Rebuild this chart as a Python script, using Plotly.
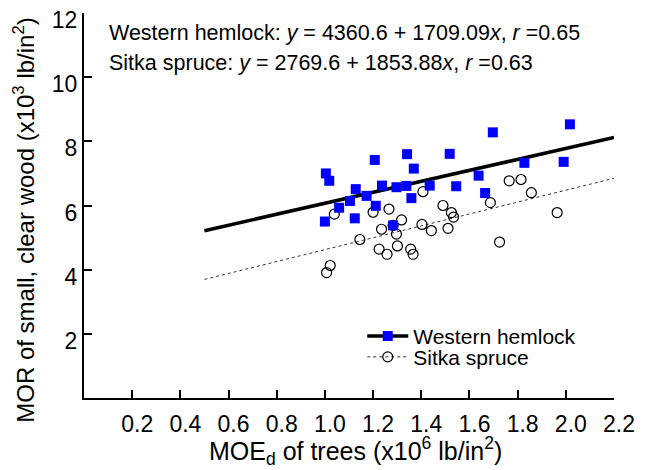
import plotly.graph_objects as go

# Western hemlock (MOEd x10^6 lb/in2, MOR x10^3 lb/in2)
wh_x = [1.004, 1.018, 1.000, 1.059, 1.104, 1.128, 1.124, 1.173, 1.207, 1.211, 1.237,
        1.297, 1.338, 1.341, 1.369, 1.359, 1.435, 1.283, 1.518, 1.545, 1.638, 1.665,
        1.697, 1.828, 1.991, 2.017]
wh_y = [7.00, 6.77, 5.50, 5.93, 6.14, 6.51, 5.60, 6.30, 7.42, 5.99, 6.62,
        6.57, 6.61, 7.60, 7.15, 6.23, 6.62, 5.38, 7.61, 6.60, 6.93, 6.39,
        8.28, 7.33, 7.36, 8.53]

# Sitka spruce
ss_x = [1.007, 1.022, 1.039, 1.145, 1.200, 1.266, 1.235, 1.225, 1.258, 1.318, 1.297,
        1.301, 1.283, 1.407, 1.403, 1.356, 1.366, 1.442, 1.490, 1.525, 1.534, 1.511,
        1.687, 1.725, 1.765, 1.814, 1.857, 1.964]
ss_y = [3.91, 4.13, 5.73, 4.94, 5.79, 5.89, 5.26, 4.64, 4.48, 5.55, 5.11,
        4.74, 5.38, 6.43, 5.41, 4.64, 4.48, 5.22, 6.00, 5.78, 5.64, 5.29,
        6.09, 4.86, 6.77, 6.81, 6.40, 5.78]

# Regression lines (y in lb/in2, converted to x10^3)
wh_coef = (4360.6, 1709.09)
ss_coef = (2769.6, 1853.88)
line_x = [0.5, 2.2]
wh_line_y = [(wh_coef[0] + wh_coef[1] * x) / 1000 for x in line_x]
ss_line_y = [(ss_coef[0] + ss_coef[1] * x) / 1000 for x in line_x]

x_ticks = [0.2, 0.4, 0.6, 0.8, 1.0, 1.2, 1.4, 1.6, 1.8, 2.0, 2.2]
x_ticktext = ["0.2", "0.4", "0.6", "0.8", "1.0", "1.2", "1.4", "1.6", "1.8", "2.0", "2.2"]
y_ticks = [2, 4, 6, 8, 10, 12]
y_ticktext = ["2", "4", "6", "8", "10", "12"]

FONT = "Liberation Sans, Arial, sans-serif"
BLUE = "#0000ff"

fig = go.Figure()

# regression lines
fig.add_trace(go.Scatter(x=line_x, y=wh_line_y, mode="lines",
                         line=dict(color="black", width=3.5), showlegend=False, hoverinfo="skip"))
fig.add_trace(go.Scatter(x=line_x, y=ss_line_y, mode="lines",
                         line=dict(color="#333333", width=1, dash="dot"), showlegend=False, hoverinfo="skip"))

# data points
fig.add_trace(go.Scatter(x=ss_x, y=ss_y, mode="markers", name="Sitka spruce",
                         marker=dict(symbol="circle-open", size=10, color="black", line=dict(width=1.2)),
                         showlegend=False))
fig.add_trace(go.Scatter(x=wh_x, y=wh_y, mode="markers", name="Western hemlock",
                         marker=dict(symbol="square", size=10, color=BLUE, line=dict(width=0)),
                         showlegend=False))

# legend entries (one legend each so the rows can sit close together)
fig.add_trace(go.Scatter(x=[None], y=[None], mode="lines+markers", name="Western hemlock",
                         line=dict(color="black", width=3.5),
                         marker=dict(symbol="square", size=10, color=BLUE), legend="legend"))
fig.add_trace(go.Scatter(x=[None], y=[None], mode="lines+markers", name="Sitka spruce",
                         line=dict(color="#333333", width=1, dash="dot"),
                         marker=dict(symbol="circle-open", size=10, color="black", line=dict(width=1.2)),
                         legend="legend2"))

eq1 = "Western hemlock: <i>y</i> = 4360.6 + 1709.09<i>x</i>, <i>r</i> =0.65"
eq2 = "Sitka spruce: <i>y</i> = 2769.6 + 1853.88<i>x</i>, <i>r</i> =0.63"

legend_common = dict(xanchor="left", yanchor="middle", bgcolor="rgba(0,0,0,0)",
                     font=dict(size=21, family=FONT), itemwidth=41)

fig.update_layout(
    width=641, height=462,
    margin=dict(l=75.5, r=35, t=4.7, b=71.5, autoexpand=False),
    paper_bgcolor="white", plot_bgcolor="white",
    font=dict(family=FONT, size=22, color="black"),
    showlegend=True,
    legend=dict(x=0.525, y=0.160, **legend_common),
    legend2=dict(x=0.525, y=0.106, **legend_common),
    xaxis=dict(range=[0, 2.2], tickvals=x_ticks, ticktext=x_ticktext,
               showline=True, linecolor="black", linewidth=2,
               ticks="inside", ticklen=8, tickwidth=1.5, tickcolor="black",
               showgrid=False, zeroline=False, automargin=False,
               tickfont=dict(size=23), ticklabelshift=5, ticklabelstandoff=4),
    yaxis=dict(range=[0, 12], tickvals=y_ticks, ticktext=y_ticktext,
               showline=True, linecolor="black", linewidth=2,
               ticks="inside", ticklen=8, tickwidth=1.5, tickcolor="black",
               showgrid=False, zeroline=False, automargin=False,
               tickfont=dict(size=23), ticklabelshift=7, ticklabeloverflow="allow"),
    annotations=[
        dict(text=eq1, x=0.097, y=11.37, xref="x", yref="y", xanchor="left", yanchor="middle",
             showarrow=False, font=dict(size=21.5)),
        dict(text=eq2, x=0.097, y=10.44, xref="x", yref="y", xanchor="left", yanchor="middle",
             showarrow=False, font=dict(size=21.5)),
        dict(text="0", x=-0.068, y=0, xref="x", yref="y", yshift=-27, xanchor="center",
             yanchor="middle", showarrow=False, font=dict(size=23)),
        # axis titles
        dict(text="MOE<sub>d</sub> of trees (x10<sup>6</sup> lb/in<sup>2</sup>)",
             x=0.512, y=0, xref="paper", yref="paper", xanchor="center", yanchor="top",
             yshift=-33, showarrow=False, font=dict(size=25)),
        dict(text="MOR of small, clear wood (x10<sup>3</sup> lb/in<sup>2</sup>)",
             x=0, y=0.463, xref="paper", yref="paper", xanchor="center", yanchor="middle",
             xshift=-60, textangle=-90, showarrow=False, font=dict(size=24)),
    ],
)

fig.write_html("out.html")
